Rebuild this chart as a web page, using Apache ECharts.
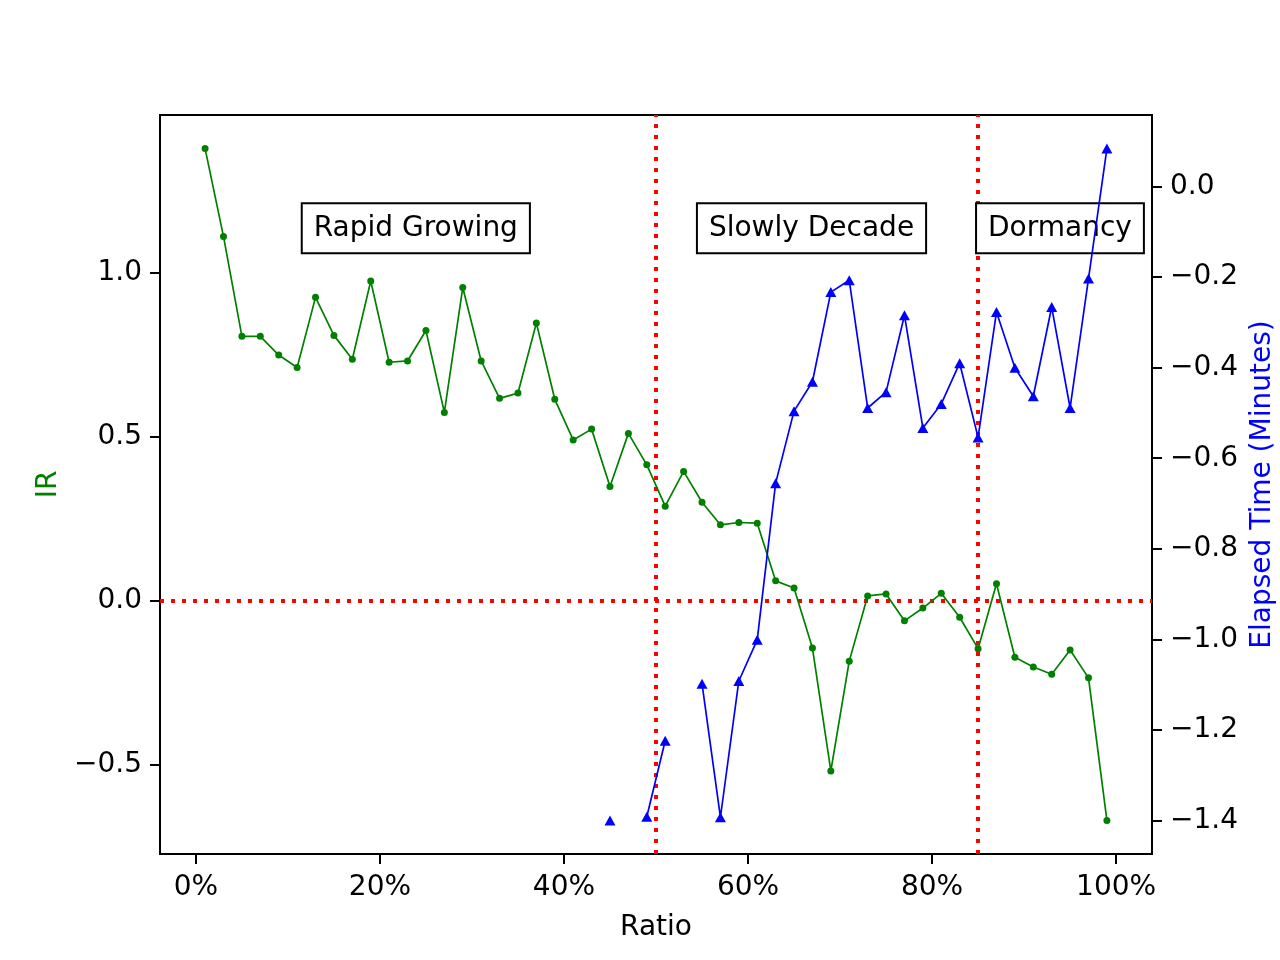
<!DOCTYPE html>
<html>
<head>
<meta charset="utf-8">
<title>IR / Elapsed Time</title>
<script src="https://cdn.jsdelivr.net/npm/echarts@6/dist/echarts.min.js"></script>
<style>
  html, body { margin: 0; padding: 0; background: #fff; }
  #chart { width: 1280px; height: 960px; }
</style>
</head>
<body>
<div id="chart"></div>
<script>
  // x positions (percent)
  var ratio = [1, 3, 5, 7, 9, 11, 13, 15, 17, 19, 21, 23, 25, 27, 29, 31, 33, 35, 37, 39,
    41, 43, 45, 47, 49, 51, 53, 55, 57, 59, 61, 63, 65, 67, 69, 71, 73, 75, 77, 79,
    81, 83, 85, 87, 89, 91, 93, 95, 97, 99];

  // left axis (green)
  var ir = [1.380, 1.112, 0.807, 0.807, 0.750, 0.712, 0.926, 0.810, 0.737, 0.976,
    0.728, 0.732, 0.825, 0.575, 0.956, 0.732, 0.618, 0.634, 0.848, 0.615,
    0.491, 0.524, 0.349, 0.511, 0.415, 0.289, 0.395, 0.301, 0.232, 0.239,
    0.237, 0.061, 0.039, -0.144, -0.519, -0.184, 0.015, 0.021, -0.061, -0.022,
    0.023, -0.050, -0.146, 0.052, -0.172, -0.202, -0.224, -0.150, -0.235, -0.670];

  // right axis (blue), null = no value
  var elapsed = [null, null, null, null, null, null, null, null, null, null,
    null, null, null, null, null, null, null, null, null, null,
    null, null, -1.400, null, -1.392, -1.224, null, -1.098, -1.393, -1.092,
    -1.001, -0.655, -0.496, -0.431, -0.233, -0.207, -0.489, -0.454, -0.284, -0.533,
    -0.480, -0.390, -0.554, -0.277, -0.400, -0.463, -0.266, -0.489, -0.203, 0.084];

  var xTicks = [0, 20, 40, 60, 80, 100];
  var irTicks = [-0.5, 0.0, 0.5, 1.0];
  var timeTicks = [0.0, -0.2, -0.4, -0.6, -0.8, -1.0, -1.2, -1.4];

  var phaseLabels = ['Rapid Growing', 'Slowly Decade', 'Dormancy'];
  var phaseBounds = [50, 85];

  var FONT = 'DejaVu Sans';

  // matplotlib style 5% margins
  function padMin(v) { return v.min - 0.05 * (v.max - v.min); }
  function padMax(v) { return v.max + 0.05 * (v.max - v.min); }
  function fmtNum(v) {
    return (v < 0 ? '\u2212' : '') + Math.abs(v).toFixed(1);
  }

  var irData = ratio.map(function (r, i) { return [r, ir[i]]; });
  var timeData = ratio.map(function (r, i) {
    return elapsed[i] === null ? [r, '-'] : [r, elapsed[i]];
  });

  var chart = echarts.init(document.getElementById('chart'));

  var boxLabel = {
    show: true,
    position: 'inside',
    formatter: '{b}',
    fontFamily: FONT,
    fontSize: 28,
    lineHeight: 30,
    color: '#000',
    backgroundColor: '#fff',
    borderColor: '#000',
    borderWidth: 2,
    padding: [9, 11, 9, 11]
  };

  var tickStyle = { color: '#000', width: 2 };

  chart.setOption({
    animation: false,
    textStyle: { fontFamily: FONT },
    grid: {
      left: 160, right: 128, top: 115, bottom: 106,
      outerBoundsMode: 'none',
      containLabel: false,
      show: true, borderColor: '#000', borderWidth: 2, backgroundColor: '#fff'
    },
    xAxis: {
      type: 'value',
      min: padMin, max: padMax,
      name: 'Ratio',
      nameLocation: 'middle',
      nameGap: 60,
      nameTextStyle: { fontFamily: FONT, fontSize: 28, color: '#000' },
      axisLine: { show: false, onZero: false },
      splitLine: { show: false },
      axisTick: { show: true, length: 10, lineStyle: tickStyle, customValues: xTicks },
      axisLabel: {
        customValues: xTicks, margin: 20,
        fontFamily: FONT, fontSize: 28, color: '#000',
        formatter: function (v) { return v + '%'; }
      }
    },
    yAxis: [{
      type: 'value',
      position: 'left',
      min: padMin, max: padMax,
      name: 'IR',
      nameLocation: 'middle',
      nameRotate: 90,
      nameGap: 96,
      nameTextStyle: { fontFamily: FONT, fontSize: 28, color: '#008000' },
      axisLine: { show: false, onZero: false },
      splitLine: { show: false },
      axisTick: { show: true, length: 10, lineStyle: tickStyle, customValues: irTicks },
      axisLabel: {
        customValues: irTicks, margin: 18,
        fontFamily: FONT, fontSize: 28, color: '#000',
        formatter: fmtNum
      }
    }, {
      type: 'value',
      position: 'right',
      min: padMin, max: padMax,
      name: 'Elapsed Time (Minutes)',
      nameLocation: 'middle',
      nameRotate: 90,
      nameGap: 90,
      nameTextStyle: { fontFamily: FONT, fontSize: 28, color: '#0000ff' },
      axisLine: { show: false, onZero: false },
      splitLine: { show: false },
      axisTick: { show: true, length: 10, lineStyle: tickStyle, customValues: timeTicks },
      axisLabel: {
        customValues: timeTicks, margin: 18,
        fontFamily: FONT, fontSize: 28, color: '#000',
        formatter: fmtNum
      }
    }],
    series: [{
      name: 'IR',
      type: 'line',
      yAxisIndex: 0,
      z: 2,
      data: irData,
      symbol: 'circle',
      symbolSize: 7,
      showAllSymbol: true,
      lineStyle: { color: '#008000', width: 1.7 },
      itemStyle: { color: '#008000' },
      markLine: {
        silent: true,
        symbol: 'none',
        z: 2,
        label: { show: false },
        lineStyle: { color: '#ff0000', width: 4, type: [4, 7], cap: 'butt' },
        data: [
          { yAxis: 0 },
          { xAxis: phaseBounds[0] },
          { xAxis: phaseBounds[1] }
        ]
      },
      markPoint: {
        silent: true,
        z: 3,
        symbol: 'rect',
        symbolSize: 1,
        itemStyle: { color: 'rgba(0,0,0,0)' },
        label: boxLabel,
        data: [
          { name: phaseLabels[0], coord: [23.9, 1.137] },
          { name: phaseLabels[1], coord: [66.9, 1.137] },
          { name: phaseLabels[2], coord: [93.9, 1.137] }
        ]
      }
    }, {
      name: 'Elapsed Time',
      type: 'line',
      yAxisIndex: 1,
      z: 5,
      data: timeData,
      connectNulls: false,
      symbol: 'triangle',
      symbolSize: [11, 10],
      showAllSymbol: true,
      lineStyle: { color: '#0000ff', width: 1.7 },
      itemStyle: { color: '#0000ff' }
    }]
  });
</script>
</body>
</html>
